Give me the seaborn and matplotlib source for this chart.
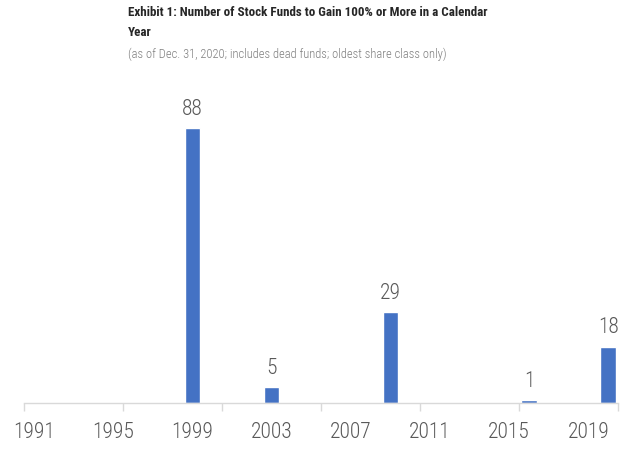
import matplotlib
matplotlib.use("Agg")
import matplotlib.pyplot as plt
import seaborn as sns
import pandas as pd

years = [str(y) for y in range(1991, 2021)]
counts = [0, 0, 0, 0, 0, 0, 0, 0, 88, 0,
          0, 0, 5, 0, 0, 0, 0, 0, 29, 0,
          0, 0, 0, 0, 0, 1, 0, 0, 0, 18]
tick_years = ["1991", "1995", "1999", "2003", "2007", "2011", "2015", "2019"]
title = "Exhibit 1: Number of Stock Funds to Gain 100% or More in a Calendar\nYear"
subtitle = "(as of Dec. 31, 2020; includes dead funds; oldest share class only)"

sns.set_theme(style="white")
plt.rcParams["font.family"] = ["Roboto Condensed", "Roboto", "DejaVu Sans"]

df = pd.DataFrame({"year": years, "count": counts})

fig = plt.figure(figsize=(6.3, 4.5), dpi=100)
ax = fig.add_axes([24 / 630, 47 / 450, 594 / 630, (403 - 90.5) / 450])
sns.barplot(data=df, x="year", y="count", order=years, color="#4472C4",
            saturation=1, width=0.78, ax=ax)
ax.set_ylim(0, 100)
ax.set_xlim(-0.5, len(years) - 0.5)
ax.set_xlabel("")
ax.set_ylabel("")
ax.set_yticks([])
for s in ["top", "right", "left"]:
    ax.spines[s].set_visible(False)
ax.spines["bottom"].set_color("#d9d9d9")
ax.spines["bottom"].set_linewidth(1.0)

pos = [years.index(t) for t in tick_years]
ax.set_xticks(pos)
ax.set_xticklabels(tick_years, fontsize=15.5, color="#595959", fontweight="light")
ax.tick_params(axis="x", which="major", length=0, pad=14)
ax.set_xticks([i - 0.5 for i in range(0, len(years) + 1, 5)], minor=True)
ax.tick_params(axis="x", which="minor", length=6, color="#d9d9d9", width=1,
               bottom=True)

labels = [str(v) if v else "" for v in counts]
ax.bar_label(ax.containers[0], labels=labels, padding=6, fontsize=15.5,
             color="#595959", fontweight="light")

fig.text(128 / 630, 1 - 6 / 450, title, ha="left", va="top", fontsize=9.4,
         fontweight="bold", color="#262626", linespacing=1.7)
fig.text(128 / 630, 1 - 48 / 450, subtitle, ha="left", va="top", fontsize=9,
         color="#7f7f7f", fontweight="light")

fig.savefig("out.png", dpi=100)
